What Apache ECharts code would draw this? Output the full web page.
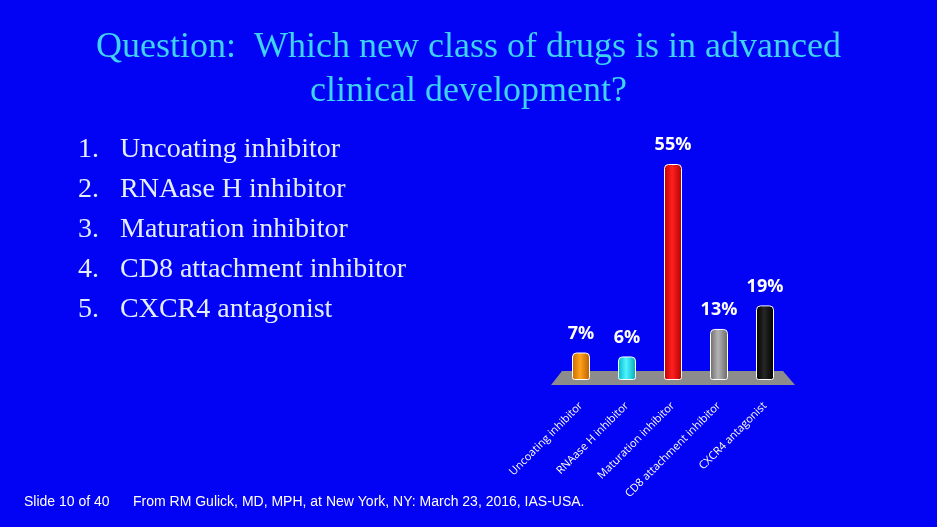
<!DOCTYPE html>
<html><head><meta charset="utf-8">
<script src="https://cdn.jsdelivr.net/npm/echarts@6/dist/echarts.min.js"></script>
<style>html,body{margin:0;padding:0;background:#0202F4}#c{width:937px;height:527px}</style>
</head><body><div id="c"></div>
<script>
const categories = ["Uncoating inhibitor","RNAase H inhibitor","Maturation inhibitor","CD8 attachment inhibitor","CXCR4 antagonist"];
const values = [7, 6, 55, 13, 19];
const barColors = [["#c86a00","#ffa31a","#b85e00"],["#00b8c8","#4ff4ff","#00a8b8"],["#c00000","#ff2020","#b00000"],["#6a6a6a","#b4b4b4","#666666"],["#000000","#262626","#000000"]];
const titleLines = ["Question:  Which new class of drugs is in advanced","clinical development?"];
const footerLeft = "Slide 10 of 40";
const footerSource = "From RM Gulick, MD, MPH, at New York, NY: March 23, 2016, IAS-USA.";

const chart = echarts.init(document.getElementById('c'));
const graphics = [];
titleLines.forEach((t,i)=>graphics.push({type:'text',left:'center',top:30+i*44,style:{text:t,fill:'#3ed2f4',font:'36px "Liberation Serif"'}}));
categories.forEach((c,i)=>{
  graphics.push({type:'text',left:78,top:136+i*40,style:{text:(i+1)+'.',fill:'#e4eeff',font:'28px "Liberation Serif"'}});
  graphics.push({type:'text',left:120,top:136+i*40,style:{text:c,fill:'#e4eeff',font:'28px "Liberation Serif"'}});
});
graphics.push({type:'text',left:24,top:495,style:{text:footerLeft,fill:'#ffffff',font:'14px "Liberation Sans"'}});
graphics.push({type:'text',left:133,top:495,style:{text:footerSource,fill:'#ffffff',font:'14px "Liberation Sans"'}});
graphics.push({type:'polygon',z:0,shape:{points:[[551,385],[795,385],[783,371],[562,371]]},style:{fill:'#8c8c8c'}});

chart.setOption({
  backgroundColor:'#0202F4',
  animation:false,
  graphic:graphics,
  grid:{left:558,width:230,top:164,height:216},
  xAxis:{type:'category',data:categories,axisLine:{show:false},axisTick:{show:false},
    axisLabel:{rotate:45,interval:0,color:'#ffffff',fontSize:11,fontFamily:'"Open Sans"',margin:24}},
  yAxis:{type:'value',min:0,max:55,show:false,splitLine:{show:false}},
  series:[{type:'bar',barWidth:18,z:5,
    data:values.map((v,i)=>({value:v,itemStyle:{color:new echarts.graphic.LinearGradient(0,0,1,0,[{offset:0,color:barColors[i][0]},{offset:0.45,color:barColors[i][1]},{offset:1,color:barColors[i][2]}]),borderColor:'#ffffff',borderWidth:1,borderRadius:[4,4,2,2]}})),
    label:{show:true,position:'top',distance:10,formatter:'{c}%',color:'#ffffff',fontWeight:'bold',fontSize:18,fontFamily:'"Open Sans"'}
  }]
});
</script></body></html>
